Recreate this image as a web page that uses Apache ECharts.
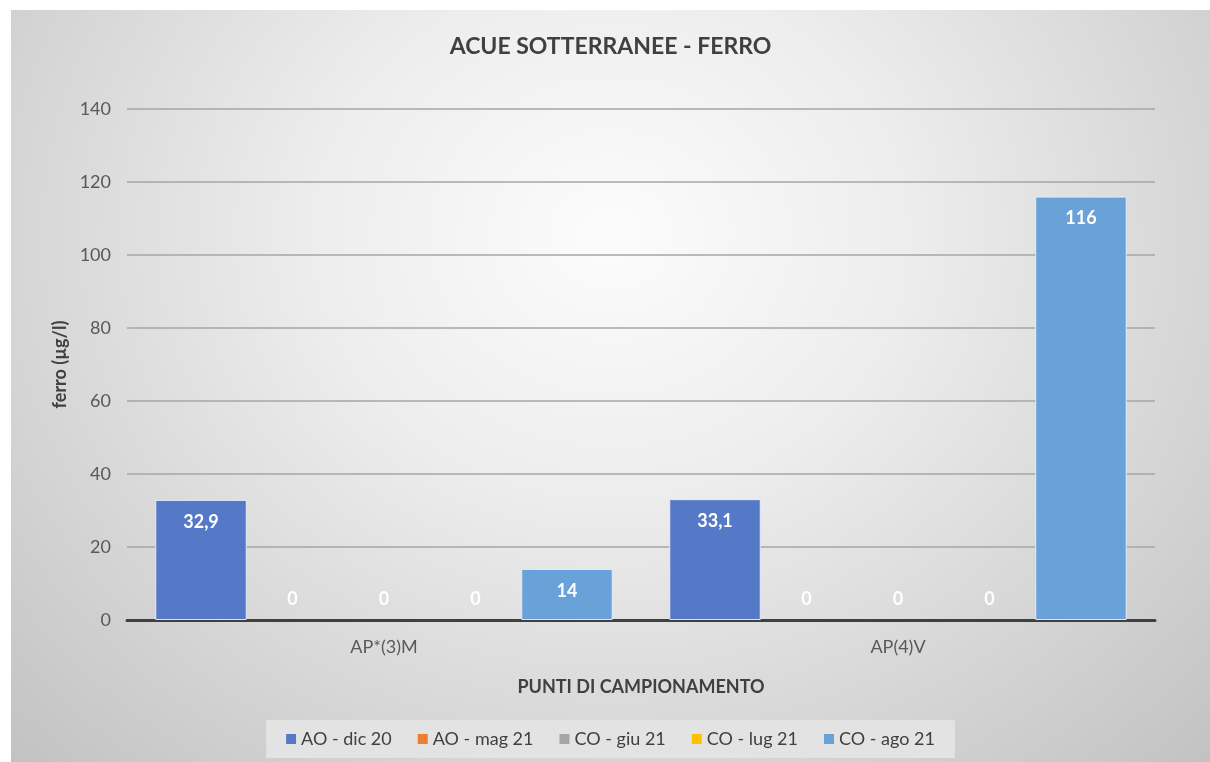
<!DOCTYPE html>
<html>
<head>
<meta charset="utf-8">
<script src="https://cdn.jsdelivr.net/npm/echarts@6/dist/echarts.min.js"></script>
<style>
  html, body { margin: 0; padding: 0; background: #fff; }
  #chart {
    position: absolute; left: 11px; top: 10px; width: 1199px; height: 752px;
    background: radial-gradient(ellipse farthest-corner at 50% 30%, #fcfcfc 0%, #ededed 35%, #c2c2c2 100%);
  }
</style>
</head>
<body>
<div id="chart"></div>
<script>
var categories = ['AP*(3)M', 'AP(4)V'];
var seriesNames = ['AO - dic 20', 'AO - mag 21', 'CO - giu 21', 'CO - lug 21', 'CO - ago 21'];
var seriesValues = [
  [32.9, 33.1],
  [0, 0],
  [0, 0],
  [0, 0],
  [14, 116]
];
var colors = ['#5579c6', '#ed7d31', '#a5a5a5', '#ffc000', '#69a2d8'];
var yTicks = [0, 20, 40, 60, 80, 100, 120, 140];

var chart = echarts.init(document.getElementById('chart'));
var font = 'Lato, "Open Sans", sans-serif';

chart.setOption({
  backgroundColor: 'transparent',
  title: {
    text: 'ACUE SOTTERRANEE - FERRO',
    left: 'center',
    top: 20,
    textStyle: { fontFamily: font, fontSize: 23, fontWeight: 'bold', color: '#404040' }
  },
  grid: { left: 116, right: 55, top: 99, bottom: 142 },
  legend: {
    bottom: 4,
    left: 'center',
    padding: [10, 20],
    backgroundColor: 'rgba(228,228,228,0.9)',
    itemWidth: 10,
    itemHeight: 10,
    itemGap: 26,
    icon: 'rect',
    textStyle: { fontFamily: font, fontSize: 18, color: '#404040' },
    data: seriesNames
  },
  xAxis: {
    type: 'category',
    data: categories,
    name: 'PUNTI DI CAMPIONAMENTO',
    nameLocation: 'middle',
    nameGap: 58,
    nameTextStyle: { fontFamily: font, fontSize: 18, fontWeight: 'bold', color: '#404040' },
    axisLine: { lineStyle: { color: '#404040', width: 3 } },
    axisTick: { show: false },
    axisLabel: { fontFamily: font, fontSize: 18, color: '#595959', margin: 18 }
  },
  yAxis: {
    type: 'value',
    min: yTicks[0],
    max: yTicks[yTicks.length - 1],
    interval: 20,
    name: 'ferro (µg/l)',
    nameLocation: 'middle',
    nameGap: 57,
    nameTextStyle: { fontFamily: font, fontSize: 18, fontWeight: 'bold', color: '#404040' },
    axisLine: { show: false },
    axisTick: { show: false },
    axisLabel: { fontFamily: font, fontSize: 18, color: '#595959', margin: 16 },
    splitLine: { lineStyle: { color: '#a6a6a6', width: 1.5 } }
  },
  series: seriesNames.map(function (name, i) {
    return {
      name: name,
      type: 'bar',
      barGap: '0%',
      barCategoryGap: '11%',
      itemStyle: { color: colors[i] },
      data: seriesValues[i].map(function (v) {
        return {
          value: v,
          itemStyle: { borderColor: 'rgba(235,240,250,0.9)', borderWidth: v === 0 ? 0 : 1 },
          label: {
            show: true,
            position: v === 0 ? 'top' : 'insideTop',
            distance: v === 0 ? 12 : 13,
            color: '#ffffff',
            fontFamily: font,
            fontSize: 18,
            fontWeight: 'bold',
            formatter: function (p) { return String(p.value).replace('.', ','); }
          }
        };
      })
    };
  })
});
</script>
</body>
</html>
